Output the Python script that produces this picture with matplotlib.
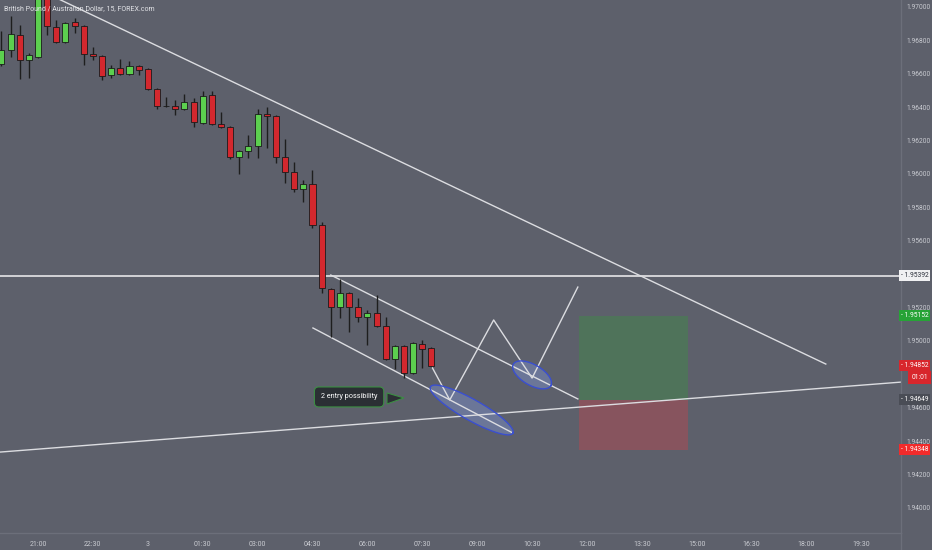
import numpy as np
import matplotlib
matplotlib.use('Agg')
import matplotlib.pyplot as plt
from matplotlib.patches import Rectangle, Polygon
from matplotlib.lines import Line2D

###############################################################################################
# Data (GBPAUD 15m)

bars = np.arange(-4, 44)

opens = [1.96659, 1.96743, 1.96832, 1.96683, 1.96701, 1.97055, 1.96880, 1.96790, 1.96910, 1.96886,
         1.96719, 1.96707, 1.96593, 1.96635, 1.96599, 1.96647, 1.96629, 1.96509, 1.96407, 1.96407,
         1.96389, 1.96431, 1.96305, 1.96473, 1.96299, 1.96281, 1.96102, 1.96138, 1.96168, 1.96359,
         1.96347, 1.96102, 1.96012, 1.95910, 1.95940, 1.95695, 1.95311, 1.95204, 1.95287, 1.95204,
         1.95144, 1.95168, 1.95090, 1.94892, 1.94970, 1.94808, 1.94982, 1.94958]
highs = [1.96856, 1.96946, 1.96892, 1.96725, 1.97085, 1.97075, 1.96922, 1.96910, 1.96934, 1.96892,
         1.96760, 1.96713, 1.96653, 1.96689, 1.96677, 1.96653, 1.96635, 1.96515, 1.96461, 1.96443,
         1.96479, 1.96455, 1.96497, 1.96497, 1.96371, 1.96287, 1.96144, 1.96234, 1.96389, 1.96401,
         1.96353, 1.96210, 1.96072, 1.95964, 1.96024, 1.95712, 1.95317, 1.95371, 1.95293, 1.95258,
         1.95186, 1.95275, 1.95144, 1.94976, 1.94976, 1.94994, 1.95006, 1.94964]
lows = [1.96647, 1.96701, 1.96569, 1.96575, 1.96695, 1.96832, 1.96784, 1.96784, 1.96844, 1.96653,
        1.96683, 1.96563, 1.96575, 1.96593, 1.96593, 1.96593, 1.96503, 1.96389, 1.96401, 1.96353,
        1.96383, 1.96281, 1.96299, 1.96293, 1.96275, 1.96090, 1.96000, 1.96096, 1.96096, 1.96156,
        1.96066, 1.95946, 1.95892, 1.95832, 1.95677, 1.95287, 1.95024, 1.95138, 1.95054, 1.95114,
        1.94976, 1.95084, 1.94886, 1.94832, 1.94778, 1.94802, 1.94838, 1.94844]
closes = [1.96743, 1.96838, 1.96683, 1.96713, 1.97060, 1.96886, 1.96790, 1.96904, 1.96886, 1.96719,
          1.96707, 1.96587, 1.96635, 1.96599, 1.96647, 1.96623, 1.96509, 1.96407, 1.96407, 1.96389,
          1.96431, 1.96311, 1.96467, 1.96299, 1.96281, 1.96102, 1.96138, 1.96168, 1.96359, 1.96347,
          1.96102, 1.96012, 1.95910, 1.95940, 1.95695, 1.95317, 1.95204, 1.95287, 1.95204, 1.95144,
          1.95168, 1.95090, 1.94892, 1.94970, 1.94808, 1.94988, 1.94952, 1.94852]

time_ticks = [0, 6, 12, 18, 24, 30, 36, 42, 48, 54, 60, 66, 72, 78, 84, 90]
time_labels = ['21:00', '22:30', '3', '01:30', '03:00', '04:30', '06:00', '07:30',
               '09:00', '10:30', '12:00', '13:30', '15:00', '16:30', '18:00', '19:30']
price_ticks = [1.940, 1.942, 1.944, 1.946, 1.948, 1.950, 1.952, 1.954, 1.956, 1.958,
               1.960, 1.962, 1.964, 1.966, 1.968, 1.970]
hidden_ticks = [1.948, 1.954]   # covered by the price tags on the scale

# Drawings
level_price = 1.95392
desc_x = [-4, 86.1]
desc_y = [1.97211, 1.94862]
asc_x = [-6, 96]
asc_y = [1.94327, 1.94761]
chan_top_x = [32.0, 59.0]
chan_top_y = [1.95395, 1.94653]
chan_bot_x = [30.05, 51.9]
chan_bot_y = [1.95078, 1.94449]
zig_x = [43.06, 45.0, 49.8, 54.0, 59.0]
zig_y = [1.94844, 1.94647, 1.95126, 1.94778, 1.95323]

# Long position box
pos_x = [59.1, 71.0]
target_price = 1.95152
entry_price = 1.94649
stop_price = 1.94348
last_price = 1.94852

# Ellipses: center, major axis offset, minor axis offset (bar, price)
big_ell = [(47.4, 1.94587), (4.5, -0.001390), (-0.57, -0.000540)]
small_ell = [(54.0, 1.94797), (2.05, -0.000640), (-0.55, -0.000540)]

# Callout
note_text = '2 entry possibility'
note_pos = (34.0, 1.94665)
note_tip = [(38.14, 1.94689), (40.0, 1.94659), (38.14, 1.94623)]

###############################################################################################
# Style

BG = '#5d606b'
TXT = '#c9cbd1'
GREEN = '#5ccf4f'
RED = '#d3282e'
LINE = '#dcdde1'
FONT = 'Roboto'
SCALE_FS = 4.8

fig = plt.figure(figsize=(9.32, 5.5), dpi=100, facecolor=BG)
ax = fig.add_axes([0, 17 / 550, 901 / 932, 533 / 550])
ax.set_facecolor(BG)

###############################################################################################
# Candles

o = np.array(opens)
c = np.array(closes)
colors = [GREEN if cc > oo else (RED if cc < oo else '#1e1e1e') for oo, cc in zip(o, c)]
ax.vlines(bars, lows, highs, color='#1e1e1e', linewidth=1.0, zorder=3)
body_h = np.maximum(np.abs(c - o), 0.00002)
ax.bar(bars, body_h, bottom=np.minimum(o, c), width=0.66, color=colors,
       edgecolor='#1b1b1b', linewidth=0.6, zorder=4)

###############################################################################################
# Drawings

ax.add_patch(Rectangle((pos_x[0], entry_price), pos_x[1] - pos_x[0], target_price - entry_price,
                       facecolor='#4f735a', edgecolor='none', zorder=1))
ax.add_patch(Rectangle((pos_x[0], stop_price), pos_x[1] - pos_x[0], entry_price - stop_price,
                       facecolor='#87545e', edgecolor='none', zorder=1))

t = np.linspace(0, 2 * np.pi, 200)
for (cx, cy), (ux, uy), (vx, vy) in [big_ell, small_ell]:
    ex = cx + ux * np.cos(t) + vx * np.sin(t)
    ey = cy + uy * np.cos(t) + vy * np.sin(t)
    ax.fill(ex, ey, color='#7e92cf', alpha=0.45, zorder=1.5, linewidth=0)
    ax.plot(ex, ey, color='#3a4fd0', linewidth=1.0, zorder=5)

ax.axhline(level_price, color='#e6e6e9', linewidth=1.2, zorder=2)
ax.plot(desc_x, desc_y, color=LINE, linewidth=1.0, zorder=2)
ax.plot(asc_x, asc_y, color=LINE, linewidth=1.0, zorder=2)
ax.plot(chan_top_x, chan_top_y, color=LINE, linewidth=1.0, zorder=2)
ax.plot(chan_bot_x, chan_bot_y, color=LINE, linewidth=1.0, zorder=2)
ax.plot(zig_x, zig_y, color=LINE, linewidth=1.0, zorder=2)

ax.add_patch(Polygon(note_tip, closed=True, facecolor='#2b2f34', edgecolor='#3c8f43',
                     linewidth=0.8, zorder=6))
ax.text(note_pos[0], note_pos[1], note_text, color='white', fontsize=5.2, family=FONT,
        ha='center', va='center', zorder=7,
        bbox=dict(boxstyle='round,pad=0.9,rounding_size=0.6', facecolor='#2b2f34',
                  edgecolor='#3c8f43', linewidth=0.8))

###############################################################################################
# Axes

ax.set_xlim(-4.153, 94.32)
ax.set_ylim(1.938503, 1.970419)

for s in ['top', 'left']:
    ax.spines[s].set_visible(False)
for s in ['right', 'bottom']:
    ax.spines[s].set_color('#6c6f7a')
    ax.spines[s].set_linewidth(1.0)

ax.yaxis.tick_right()
ax.set_yticks(price_ticks)
ax.set_yticklabels(['' if p in hidden_ticks else '%.5f' % p for p in price_ticks])
ax.tick_params(axis='y', colors=TXT, labelsize=SCALE_FS, length=0, pad=4)
ax.set_xticks(time_ticks)
ax.set_xticklabels(time_labels)
ax.tick_params(axis='x', colors=TXT, labelsize=5.0, length=0, pad=6)
for lab in ax.get_xticklabels() + ax.get_yticklabels():
    lab.set_family(FONT)

# Price labels on the scale
ytr = ax.get_yaxis_transform()
tags = [
    (level_price, '1.95392', '#f0f0f2', '#2a2e39'),
    (target_price, '1.95152', '#26a336', 'white'),
    (last_price, '1.94852', '#d8262c', 'white'),
    (entry_price, '1.94649', '#4a4d56', 'white'),
    (stop_price, '1.94348', '#f22b2b', 'white'),
]
for price, txt, fc, tc in tags:
    ax.text(0.9995, price, '- ' + txt, transform=ytr, color=tc, fontsize=SCALE_FS, family=FONT,
            ha='left', va='center', clip_on=False, zorder=8,
            bbox=dict(boxstyle='square,pad=0.3', facecolor=fc, edgecolor='none'))
ax.text(1.0115, last_price - 0.00068, '01:01', transform=ytr, color='white', fontsize=SCALE_FS,
        family=FONT, ha='left', va='center', clip_on=False, zorder=8,
        bbox=dict(boxstyle='square,pad=0.45', facecolor='#d8262c', edgecolor='none'))

fig.add_artist(Line2D([901 / 932, 901 / 932], [0, 17 / 550], color='#6c6f7a', linewidth=1.0))

fig.text(4 / 932, 1 - 9 / 550, 'British Pound / Australian Dollar, 15, FOREX.com',
         color='#e3e4e8', fontsize=5.0, family=FONT, ha='left', va='center')

fig.savefig('out.png', dpi=100, facecolor=BG)
